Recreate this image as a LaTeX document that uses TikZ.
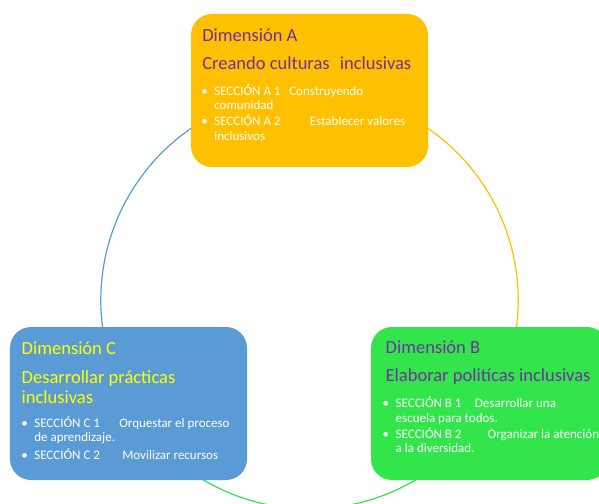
\documentclass[tikz,border=0pt]{standalone}
\usepackage{fontspec}
\setmainfont{Carlito}
\usetikzlibrary{calc}

\definecolor{oroA}{HTML}{FFC000}
\definecolor{azulC}{HTML}{5B9BD5}
\definecolor{verdeB}{HTML}{32E54B}
\definecolor{moradoT}{HTML}{7030A0}
\definecolor{amarilloT}{HTML}{FFFF00}

\newcommand\vineta{\llap{•\hspace{6.5bp}}}
\newcommand\radioaro{208.7}

\begin{document}
\begin{tikzpicture}
[
    x=1bp, y=-1bp,
    caja/.style={rounded corners=21bp, minimum width=237bp, minimum height=153bp, inner sep=0pt},
    titulo/.style={font=\fontsize{18.5bp}{19.5bp}\selectfont, inner sep=0pt, anchor=base west, align=left},
    lista/.style={font=\fontsize{13bp}{14.5bp}\selectfont, text=white, inner sep=0pt, anchor=base west, align=left},
    aro/.style={line width=1.2bp},
]
\useasboundingbox (0,0) rectangle (599,504);
\clip (0,0) rectangle (599,504);

% ciclo
\coordinate (hub) at (309.5,300.2);
\draw[aro, draw=azulC] (hub) ++(240:\radioaro) coordinate (arcAC)
    arc[start angle=240, end angle=168, radius=\radioaro];
\draw[aro, draw=oroA] (hub) ++(300:\radioaro) coordinate (arcAB)
    arc[start angle=300, end angle=370, radius=\radioaro];
\draw[aro, draw=verdeB] (hub) ++(125:\radioaro) coordinate (arcCB)
    arc[start angle=125, end angle=55, radius=\radioaro];

% Dimension A (multi-line nodes sit on their last baseline)
\node[caja, fill=oroA] (boxA) at (309.5,90.5) {};
\node[titulo, text=moradoT] (dimA) at ($(boxA.north west)+(11.3,27.7)$) {Dimensión A};
\node[titulo, text=moradoT] (nomA) at ($(boxA.north west)+(11.3,56)$)
    {Creando culturas\hspace{0.55em}inclusivas};
\node[lista] (secA) at ($(boxA.north west)+(23.3,126.3)$)
    {\vineta\makebox[75bp][l]{SECCIÓN A 1}Construyendo\\
     comunidad\\[1.5bp]
     \vineta\makebox[95.7bp][l]{SECCIÓN A 2}Establecer valores\\
     inclusivos};

% Dimension C
\node[caja, fill=azulC] (boxC) at (128.5,403.5) {};
\node[titulo, text=amarilloT] (dimC) at ($(boxC.north west)+(11.7,28)$) {Dimensión C};
\node[titulo, text=amarilloT] (nomC) at ($(boxC.north west)+(11.7,76.3)$)
    {Desarrollar prácticas\\inclusivas};
\node[lista] (secC) at ($(boxC.north west)+(24.3,132.3)$)
    {\vineta\makebox[85bp][l]{SECCIÓN C 1}Orquestar el proceso\\
     de aprendizaje.\\[3bp]
     \vineta\makebox[88bp][l]{SECCIÓN C 2}Movilizar recursos};

% Dimension B
\node[caja, fill=verdeB] (boxB) at (489.5,403.5) {};
\node[titulo, text=moradoT] (dimB) at ($(boxB.north west)+(14.7,26.3)$) {Dimensión B};
\node[titulo, text=moradoT] (nomB) at ($(boxB.north west)+(14.7,54.7)$)
    {Elaborar politícas inclusivas};
\node[lista] (secB) at ($(boxB.north west)+(24.7,126)$)
    {\vineta\makebox[79.3bp][l]{SECCIÓN B 1}Desarrollar una\\
     escuela para todos.\\[1.5bp]
     \vineta\makebox[92bp][l]{SECCIÓN B 2}Organizar la atención\\
     a la diversidad.};
\end{tikzpicture}
\end{document}
